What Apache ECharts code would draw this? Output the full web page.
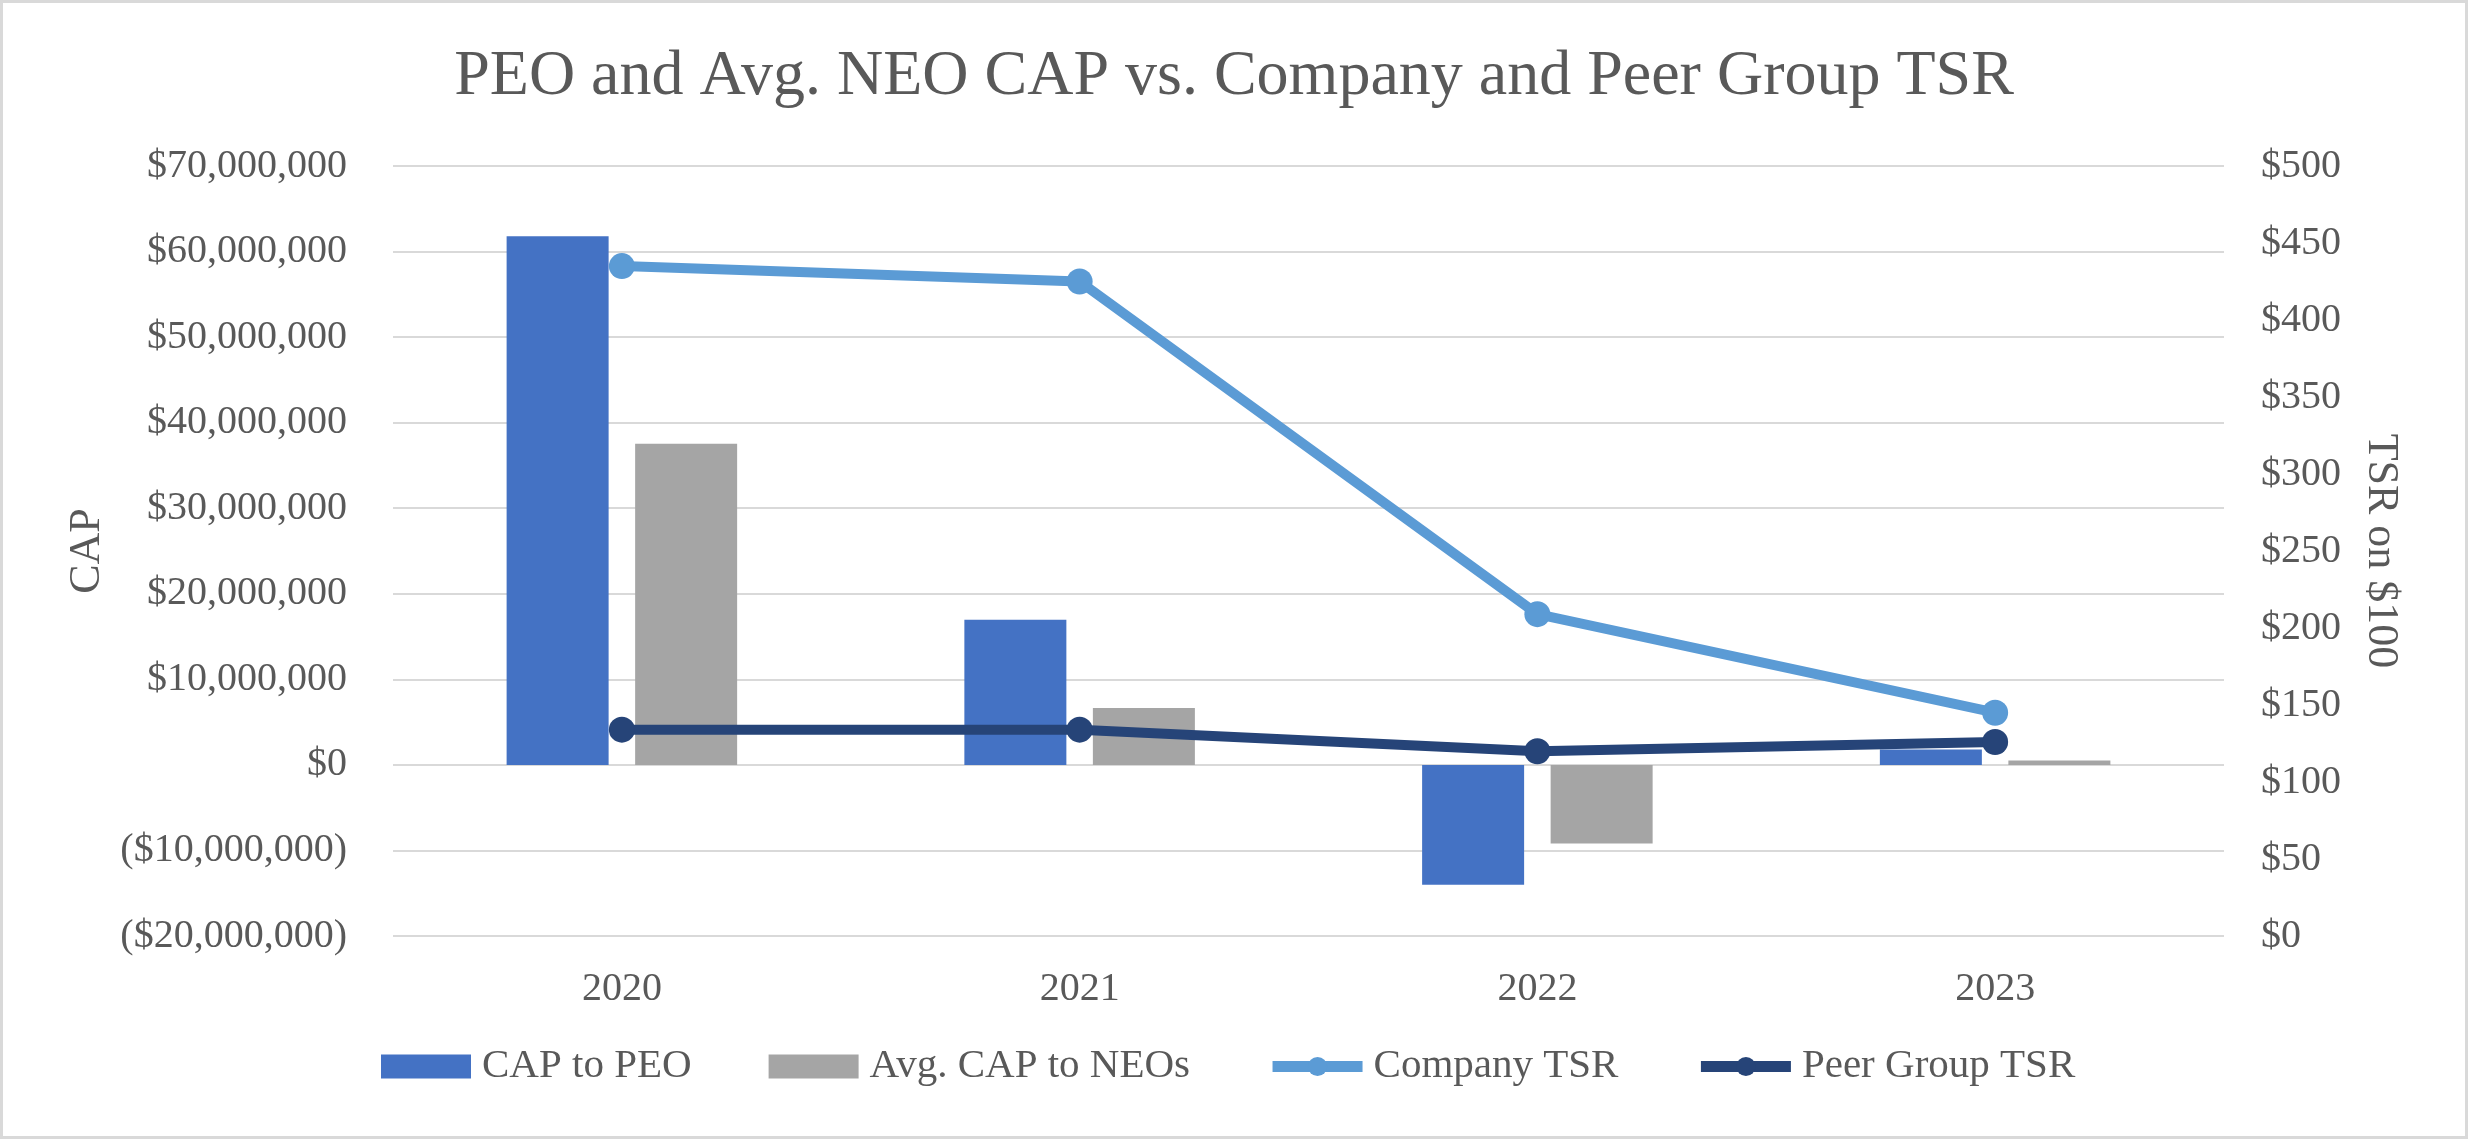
<!DOCTYPE html>
<html>
<head>
<meta charset="utf-8">
<script src="https://cdn.jsdelivr.net/npm/echarts@6/dist/echarts.min.js"></script>
<style>
html,body{margin:0;padding:0;background:#fff;}
#chart{width:2468px;height:1139px;}
</style>
</head>
<body>
<div id="chart"></div>
<script>
const years = ['2020', '2021', '2022', '2023'];
const capToPEO = [61800000, 16950000, -14000000, 1800000];
const avgCapToNEOs = [37550000, 6640000, -9180000, 500000];
const companyTSR = [435, 425, 209, 145];
const peerGroupTSR = [134, 134, 120, 126];

const FONT = 'Liberation Serif';
const TXT = '#595959';

function fmtMoney(v) {
  const abs = Math.abs(v).toLocaleString('en-US');
  return v < 0 ? '($' + abs + ')' : '$' + abs;
}

const chart = echarts.init(document.getElementById('chart'), null, {renderer: 'canvas'});
chart.setOption({
  backgroundColor: '#ffffff',
  animation: false,
  textStyle: {fontFamily: FONT, color: TXT},
  title: {
    text: 'PEO and Avg. NEO CAP vs. Company and Peer Group TSR',
    left: 'center',
    top: 40,
    textStyle: {fontFamily: FONT, fontSize: 64, fontWeight: 'normal', color: TXT}
  },
  graphic: [{
    type: 'rect', silent: true, z: 100,
    shape: {x: 1.5, y: 1.5, width: 2465, height: 1136},
    style: {fill: 'none', stroke: '#d9d9d9', lineWidth: 3}
  }],
  legend: {
    left: 376,
    top: 1041,
    itemWidth: 90,
    itemHeight: 24,
    itemGap: 77,
    lineStyle: {width: 11},
    textStyle: {fontFamily: FONT, fontSize: 41, color: TXT, padding: [0, 0, 0, 6]},
    data: [
      {name: 'CAP to PEO', icon: 'rect'},
      {name: 'Avg. CAP to NEOs', icon: 'rect'},
      {name: 'Company TSR'},
      {name: 'Peer Group TSR'}
    ]
  },
  grid: {left: 393, right: 244, top: 166, bottom: 203, containLabel: false},
  xAxis: {
    type: 'category',
    data: years,
    axisLine: {show: false},
    axisTick: {show: false},
    axisLabel: {fontFamily: FONT, fontSize: 40, color: TXT, margin: 33}
  },
  yAxis: [{
    type: 'value',
    min: -20000000, max: 70000000, interval: 10000000,
    name: 'CAP',
    nameLocation: 'middle',
    nameRotate: 90,
    nameGap: 284,
    nameTextStyle: {fontFamily: FONT, fontSize: 44, color: TXT},
    axisLine: {show: false},
    axisTick: {show: false},
    splitLine: {lineStyle: {color: '#d9d9d9', width: 2}},
    axisLabel: {fontFamily: FONT, fontSize: 40, color: TXT, margin: 46, formatter: fmtMoney}
  }, {
    type: 'value',
    min: 0, max: 500, interval: 50,
    name: 'TSR on $100',
    nameLocation: 'middle',
    nameRotate: -90,
    nameGap: 135,
    nameTextStyle: {fontFamily: FONT, fontSize: 44, color: TXT},
    axisLine: {show: false},
    axisTick: {show: false},
    splitLine: {show: false},
    axisLabel: {fontFamily: FONT, fontSize: 40, color: TXT, margin: 37, formatter: v => '$' + v}
  }],
  series: [{
    name: 'CAP to PEO',
    type: 'bar',
    data: capToPEO,
    barWidth: 102,
    barGap: '26%',
    itemStyle: {color: '#4472c4'}
  }, {
    name: 'Avg. CAP to NEOs',
    type: 'bar',
    data: avgCapToNEOs,
    barWidth: 102,
    barGap: '26%',
    itemStyle: {color: '#a5a5a5'}
  }, {
    name: 'Company TSR',
    type: 'line',
    yAxisIndex: 1,
    data: companyTSR,
    symbol: 'circle',
    symbolSize: 26,
    z: 5,
    lineStyle: {color: '#5b9bd5', width: 10},
    itemStyle: {color: '#5b9bd5'}
  }, {
    name: 'Peer Group TSR',
    type: 'line',
    yAxisIndex: 1,
    data: peerGroupTSR,
    symbol: 'circle',
    symbolSize: 26,
    z: 6,
    lineStyle: {color: '#264478', width: 10},
    itemStyle: {color: '#264478'}
  }]
});
</script>
</body>
</html>
